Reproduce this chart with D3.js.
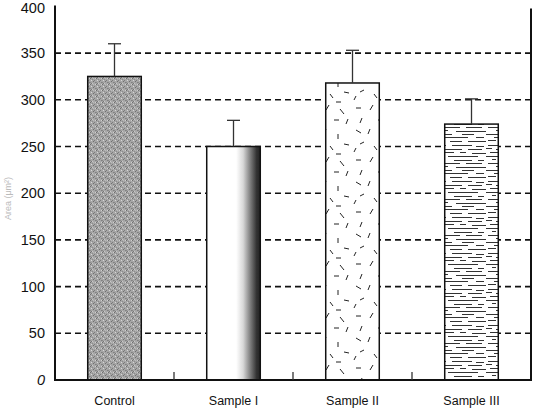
<!DOCTYPE html>
<html>
<head>
<meta charset="utf-8">
<script src="https://cdn.jsdelivr.net/npm/d3@7"></script>
<style>
  body { margin: 0; background: #fff; }
  svg { display: block; font-family: "Liberation Sans", Arial, sans-serif; }
</style>
</head>
<body>
<svg width="533" height="409"></svg>
<script>
const svg = d3.select('svg');
const width = +svg.attr('width');
const height = +svg.attr('height');

// data
const categories = ['Control', 'Sample I', 'Sample II', 'Sample III'];
const means = [325, 250, 318, 274];
const errTops = [360, 278, 353, 301];
const yTicks = [0, 50, 100, 150, 200, 250, 300, 350, 400];
const gridValues = [50, 100, 150, 200, 250, 300, 350];
const fills = ['url(#pControl)', 'url(#gSampleI)', 'url(#pSampleII)', 'url(#pSampleIII)'];

const plotLeft = 55, plotRight = 531, plotTop = 6.4, plotBottom = 380;

const x = d3.scaleBand().domain(categories).range([plotLeft, plotRight])
    .paddingInner(0.55).paddingOuter(0.275);
const y = d3.scaleLinear().domain([0, 400]).range([plotBottom, plotTop]);

/////////////// patterns ///////////////
const defs = svg.append('defs');

// grey stipple for Control
const pc = defs.append('pattern').attr('id', 'pControl')
    .attr('patternUnits', 'userSpaceOnUse').attr('width', 6).attr('height', 6);
pc.append('rect').attr('width', 6).attr('height', 6).attr('fill', '#a6a6a6');
[[0,0,'#6e6e6e'],[2,1,'#8c8c8c'],[1,2,'#d6d6d6'],[3,3,'#707070'],[5,0,'#cfcfcf'],[0,4,'#8a8a8a'],
 [4,2,'#7c7c7c'],[2,5,'#c8c8c8'],[5,4,'#808080'],[3,0,'#bbbbbb'],[1,5,'#777']]
  .forEach(p => pc.append('rect').attr('x', p[0]).attr('y', p[1]).attr('width', 1).attr('height', 1).attr('fill', p[2]));

// white -> dark gradient for Sample I
const g1 = defs.append('linearGradient').attr('id', 'gSampleI')
    .attr('x1', 0).attr('x2', 1).attr('y1', 0).attr('y2', 0);
[[0,'#fff'],[0.55,'#fff'],[0.68,'#d8d8d8'],[0.82,'#7a7a7a'],[0.93,'#333'],[1,'#222']]
  .forEach(s => g1.append('stop').attr('offset', s[0]).attr('stop-color', s[1]));

// scattered dashes for Sample II
const p2 = defs.append('pattern').attr('id', 'pSampleII')
    .attr('patternUnits', 'userSpaceOnUse').attr('width', 44).attr('height', 52);
p2.append('rect').attr('width', 44).attr('height', 52).attr('fill', '#fff');
const dashes2 = [
  [4,4,9,4],[18,6,21,1],[32,5,36,10],[10,14,8,19],[26,16,31,16],[38,20,40,15],
  [4,26,9,29],[16,30,18,25],[30,30,30,35],[8,40,12,38],[22,42,25,46],[36,40,41,41],
  [2,48,4,44],[28,50,33,50]
];
dashes2.forEach(d => p2.append('line').attr('x1', d[0]).attr('y1', d[1]).attr('x2', d[2]).attr('y2', d[3])
  .attr('stroke', '#222').attr('stroke-width', 1));

// horizontal streaks for Sample III
const p3 = defs.append('pattern').attr('id', 'pSampleIII')
    .attr('patternUnits', 'userSpaceOnUse').attr('width', 54).attr('height', 36);
p3.append('rect').attr('width', 54).attr('height', 36).attr('fill', '#fff');
const streaks3 = [
  [2,1,14],[20,1,40],[44,2,52],[0,4,6],[10,5,30],[36,5,50],[4,8,22],[28,8,34],[40,9,54],
  [0,12,12],[16,12,46],[6,15,10],[22,16,40],[46,16,52],[2,19,28],[34,19,50],[10,22,16],
  [24,23,54],[0,26,20],[30,26,42],[8,29,36],[44,29,52],[2,32,10],[18,33,30],[36,33,54]
];
streaks3.forEach(d => p3.append('line').attr('x1', d[0]).attr('y1', d[1] + 0.5).attr('x2', d[2]).attr('y2', d[1] + 0.5)
  .attr('stroke', '#333').attr('stroke-width', 1));

/////////////// gridlines ///////////////
svg.append('g').selectAll('line').data(gridValues).join('line')
  .attr('x1', plotLeft).attr('x2', plotRight)
  .attr('y1', d => y(d)).attr('y2', d => y(d))
  .attr('stroke', '#111').attr('stroke-width', 1.6)
  .attr('stroke-dasharray', '6,4');

/////////////// bars ///////////////
svg.append('g').selectAll('rect').data(categories).join('rect')
  .attr('x', d => x(d))
  .attr('y', (d, i) => y(means[i]))
  .attr('width', x.bandwidth())
  .attr('height', (d, i) => y(0) - y(means[i]))
  .attr('fill', (d, i) => fills[i])
  .attr('stroke', '#111').attr('stroke-width', 1.5);

/////////////// error bars ///////////////
const eb = svg.append('g').attr('stroke', '#333').attr('stroke-width', 1.3);
categories.forEach((c, i) => {
  const cx = x(c) + x.bandwidth() / 2;
  eb.append('line').attr('x1', cx).attr('x2', cx).attr('y1', y(means[i])).attr('y2', y(errTops[i]));
  eb.append('line').attr('x1', cx - 6.5).attr('x2', cx + 6.5).attr('y1', y(errTops[i])).attr('y2', y(errTops[i]));
});

/////////////// axes ///////////////
const yAxis = d3.axisLeft(y).tickValues(yTicks).tickSize(0).tickPadding(10);
const yg = svg.append('g').attr('transform', `translate(${plotLeft},0)`).call(yAxis);
yg.select('.domain').remove();
yg.selectAll('text').attr('font-size', 14.5).attr('fill', '#111')
  .attr('font-family', '"Liberation Sans", Arial, sans-serif')
  .attr('font-style', d => d === 0 ? 'italic' : 'normal')
  .attr('dy', d => d === 400 ? '0.45em' : '0.32em');

const xAxis = d3.axisBottom(x).tickSize(0).tickPadding(16);
const xg = svg.append('g').attr('transform', `translate(0,${plotBottom})`).call(xAxis);
xg.select('.domain').remove();
xg.selectAll('text').attr('font-size', 12.5).attr('fill', '#111')
  .attr('font-family', '"Liberation Sans", Arial, sans-serif');

// frame lines
svg.append('line').attr('x1', plotLeft).attr('x2', plotLeft).attr('y1', plotTop - 1).attr('y2', plotBottom + 1)
  .attr('stroke', '#111').attr('stroke-width', 2);
svg.append('line').attr('x1', plotLeft).attr('x2', plotRight + 1).attr('y1', plotBottom).attr('y2', plotBottom)
  .attr('stroke', '#111').attr('stroke-width', 2);
svg.append('line').attr('x1', plotRight).attr('x2', plotRight).attr('y1', plotTop + 2).attr('y2', plotBottom)
  .attr('stroke', '#111').attr('stroke-width', 2);

// category separator ticks
const seps = categories.slice(1).map(c => x(c) - x.step() * x.paddingInner() / 2);
svg.append('g').selectAll('line').data(seps).join('line')
  .attr('x1', d => d).attr('x2', d => d).attr('y1', plotBottom).attr('y2', plotBottom - 8)
  .attr('stroke', '#333').attr('stroke-width', 1.3);

// faint y-axis title
svg.append('text')
  .attr('transform', `translate(9,${(165 + 232) / 2}) rotate(-90)`)
  .attr('text-anchor', 'middle').attr('dominant-baseline', 'middle')
  .attr('font-size', 9).attr('fill', '#bbb')
  .text('Area (μm²)');
</script>
</body>
</html>
